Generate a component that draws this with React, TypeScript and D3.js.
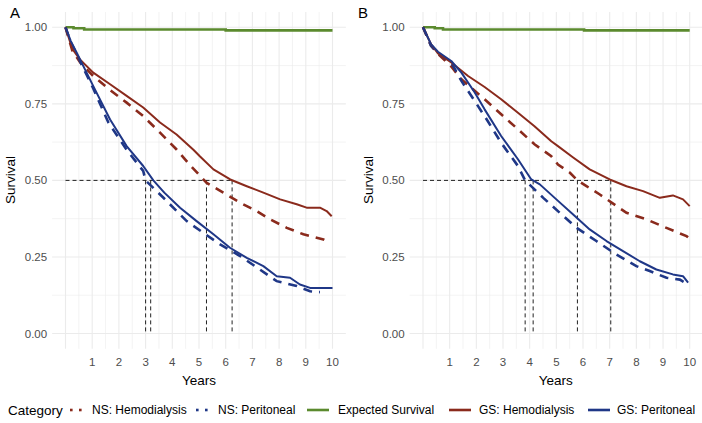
import React from "react";
import * as d3 from "d3";

// ---------- DATA ----------
const xTicks = [1, 2, 3, 4, 5, 6, 7, 8, 9, 10];
const yTicks = [0, 0.25, 0.5, 0.75, 1];
const yTickLabels = ["0.00", "0.25", "0.50", "0.75", "1.00"];
const panelLabels = ["A", "B"];
const legendTitle = "Category";
const categories = ["NS: Hemodialysis", "NS: Peritoneal", "Expected Survival", "GS: Hemodialysis", "GS: Peritoneal"];

// Panel A series [years, survival]
const expectedA: [number, number][] = [[0, 1], [0.3, 0.997], [0.7, 0.993], [6.0, 0.99], [10, 0.99]];
const gsHemoA: [number, number][] = [
  [0, 1], [0.25, 0.93], [0.54, 0.895], [1.04, 0.852], [1.67, 0.814], [2.29, 0.776], [2.91, 0.738], [3.54, 0.689],
  [4.16, 0.65], [4.79, 0.6], [5.04, 0.578], [5.54, 0.536], [6.17, 0.503], [6.79, 0.481], [7.41, 0.46], [8.04, 0.438],
  [8.66, 0.422], [9.03, 0.411], [9.53, 0.411], [9.78, 0.4], [9.97, 0.383],
];
const nsHemoA: [number, number][] = [
  [0, 1], [0.25, 0.925], [0.55, 0.885], [1.04, 0.841], [1.67, 0.795], [2.29, 0.754], [2.91, 0.71], [3.54, 0.656],
  [4.16, 0.601], [4.66, 0.55], [5.29, 0.492], [5.91, 0.46], [6.54, 0.427], [7.16, 0.4], [7.66, 0.373], [8.29, 0.345],
  [8.91, 0.324], [9.66, 0.307], [9.85, 0.298],
];
const gsPeriA: [number, number][] = [
  [0, 1], [0.2, 0.955], [0.42, 0.917], [0.79, 0.852], [1.04, 0.808], [1.67, 0.699], [2.29, 0.612], [2.91, 0.547],
  [3.29, 0.5], [3.7, 0.46], [4.29, 0.411], [4.91, 0.367], [5.54, 0.324], [6.16, 0.28], [6.79, 0.247], [7.41, 0.22],
  [7.91, 0.187], [8.41, 0.182], [8.78, 0.16], [9.16, 0.149], [10, 0.149],
];
const nsPeriA: [number, number][] = [
  [0, 1], [0.2, 0.95], [0.42, 0.912], [0.79, 0.845], [1.04, 0.8], [1.6, 0.69], [2.29, 0.6], [2.91, 0.531],
  [3.0, 0.5], [3.65, 0.445], [4.54, 0.367], [5.16, 0.329], [5.79, 0.291], [6.54, 0.253], [7.28, 0.209], [7.91, 0.171],
  [8.66, 0.155], [9.16, 0.138], [9.53, 0.135],
];

// Panel B series
const expectedB: [number, number][] = [[0, 1], [0.44, 0.997], [0.75, 0.993], [6.04, 0.99], [10, 0.99]];
const gsHemoB: [number, number][] = [
  [0, 1], [0.3, 0.945], [0.56, 0.915], [1.06, 0.885], [1.69, 0.841], [2.31, 0.805], [2.93, 0.765], [3.56, 0.721],
  [4.18, 0.677], [4.81, 0.628], [5.06, 0.612], [5.63, 0.575], [6.25, 0.536], [7.0, 0.503], [7.63, 0.481], [8.25, 0.465],
  [8.88, 0.443], [9.37, 0.451], [9.75, 0.438], [10, 0.416],
];
const nsHemoB: [number, number][] = [
  [0, 1], [0.3, 0.94], [0.6, 0.91], [1.06, 0.872], [1.44, 0.83], [2.31, 0.765], [2.93, 0.716], [3.56, 0.667],
  [4.18, 0.618], [4.81, 0.579], [5.06, 0.552], [5.51, 0.525], [5.79, 0.5], [6.13, 0.481], [6.63, 0.454], [7.63, 0.394],
  [8.37, 0.373], [9.13, 0.345], [9.88, 0.318], [10, 0.31],
];
const gsPeriB: [number, number][] = [
  [0, 1], [0.3, 0.945], [0.56, 0.92], [1.06, 0.89], [1.44, 0.852], [1.94, 0.787], [2.31, 0.732], [2.93, 0.645],
  [3.56, 0.569], [4.06, 0.503], [4.38, 0.487], [5.0, 0.438], [5.63, 0.389], [6.25, 0.34], [6.88, 0.302], [7.5, 0.269],
  [8.13, 0.236], [8.75, 0.209], [9.37, 0.193], [9.75, 0.187], [9.94, 0.166],
];
const nsPeriB: [number, number][] = [
  [0, 1], [0.3, 0.94], [0.56, 0.915], [1.06, 0.885], [1.44, 0.825], [2.31, 0.71], [2.93, 0.623], [3.56, 0.547],
  [3.83, 0.5], [4.51, 0.443], [5.13, 0.394], [5.76, 0.345], [6.5, 0.302], [7.25, 0.258], [8.0, 0.22], [8.5, 0.204],
  [9.13, 0.182], [9.63, 0.176], [9.94, 0.16],
];

// median survival times (years)
const mediansA = [3.0, 3.19, 5.28, 6.24];
const mediansB = [3.83, 4.13, 5.79, 7.04];

// ---------- STYLE ----------
const RED = "#8A2A1C";
const BLUE = "#1F3787";
const GREEN = "#5B8A2E";
const GRID = "#EBEBEB";
const FONT = "'Liberation Sans', Arial, sans-serif";

const y = d3.scaleLinear().domain([0, 1]).range([333.5, 27.3]);

function Panel({ x0, x10, label, labelX, titleX, series, medians }: any) {
  const x = d3.scaleLinear().domain([0, 10]).range([x0, x10]);
  const left = x(-0.5);
  const right = Math.min(x(10.5), 702);
  const top = y(1.05);
  const bottom = y(-0.05);
  const line = d3.line<[number, number]>().x((d) => x(d[0])).y((d) => y(d[1]));
  const stepLine = d3.line<[number, number]>().x((d) => x(d[0])).y((d) => y(d[1])).curve(d3.curveStepAfter);
  const vGrid = d3.range(0, 10.01, 0.5);
  const hGrid = d3.range(0, 1.001, 0.125);
  const cx = (left + right) / 2;
  return (
    <g>
      {hGrid.map((v: number, i: number) => (
        <line key={"h" + i} x1={left} x2={right} y1={y(v)} y2={y(v)} stroke={GRID} strokeWidth={i % 2 === 0 ? 1.1 : 0.6} />
      ))}
      {vGrid.map((t: number, i: number) => (
        <line key={"v" + i} x1={x(t)} x2={x(t)} y1={top} y2={bottom} stroke={GRID} strokeWidth={i % 2 === 0 ? 1.1 : 0.6} />
      ))}
      {yTicks.map((v, i) => (
        <text key={"yt" + i} x={left - 5} y={y(v)} dy="0.35em" textAnchor="end" fontSize={11.5} fill="#4D4D4D" fontFamily={FONT}>
          {yTickLabels[i]}
        </text>
      ))}
      {xTicks.map((t) => (
        <text key={"xt" + t} x={x(t)} y={366} textAnchor="middle" fontSize={11.5} fill="#4D4D4D" fontFamily={FONT}>
          {t}
        </text>
      ))}
      <text x={cx} y={385} textAnchor="middle" fontSize={13.5} fontFamily={FONT} fill="#000">Years</text>
      <text transform={`translate(${titleX},180) rotate(-90)`} textAnchor="middle" fontSize={13.5} fontFamily={FONT} fill="#000">Survival</text>
      <text x={labelX} y={18} fontSize={15} fontFamily={FONT} fill="#000">{label}</text>

      {/* median reference lines */}
      <line x1={x(0)} x2={x(d3.max(medians) as number)} y1={y(0.5)} y2={y(0.5)} stroke="#222" strokeWidth={1} strokeDasharray="4,3" />
      {medians.map((m: number, i: number) => (
        <line key={"m" + i} x1={x(m)} x2={x(m)} y1={y(0.5)} y2={y(0)} stroke="#222" strokeWidth={1} strokeDasharray="4,3" />
      ))}

      <path d={stepLine(series.expected) as string} fill="none" stroke={GREEN} strokeWidth={2.6} />
      <path d={line(series.nsHemo) as string} fill="none" stroke={RED} strokeWidth={2.6} strokeDasharray="9,7" />
      <path d={line(series.nsPeri) as string} fill="none" stroke={BLUE} strokeWidth={2.6} strokeDasharray="9,7" />
      <path d={line(series.gsHemo) as string} fill="none" stroke={RED} strokeWidth={2} strokeLinejoin="round" />
      <path d={line(series.gsPeri) as string} fill="none" stroke={BLUE} strokeWidth={2} strokeLinejoin="round" />
    </g>
  );
}

export default function App() {
  const legendItems = [
    { key: 68, text: 92, color: RED, dashed: true },
    { key: 194, text: 218, color: BLUE, dashed: true },
    { key: 307, text: 338, color: GREEN, dashed: false },
    { key: 449, text: 479, color: RED, dashed: false },
    { key: 588, text: 617, color: BLUE, dashed: false },
  ];
  const ly = 410;
  return (
    <svg width={702} height={423} style={{ position: "absolute", left: 0, top: 0, background: "#fff" }}>
      <rect width={702} height={423} fill="#fff" />
      <Panel x0={65.5} x10={332.5} label={panelLabels[0]} labelX={10} titleX={14.5} medians={mediansA}
        series={{ expected: expectedA, gsHemo: gsHemoA, nsHemo: nsHemoA, gsPeri: gsPeriA, nsPeri: nsPeriA }} />
      <Panel x0={423} x10={689.7} label={panelLabels[1]} labelX={358} titleX={373} medians={mediansB}
        series={{ expected: expectedB, gsHemo: gsHemoB, nsHemo: nsHemoB, gsPeri: gsPeriB, nsPeri: nsPeriB }} />
      <text x={8} y={ly} dy="0.35em" fontSize={13.5} fontFamily={FONT} fill="#000">{legendTitle}</text>
      {legendItems.map((it, i) => (
        <g key={"lg" + i}>
          {it.dashed ? (
            <g>
              <rect x={it.key + 2} y={ly - 1.3} width={2.6} height={2.6} fill={it.color} />
              <rect x={it.key + 11} y={ly - 1.3} width={2.6} height={2.6} fill={it.color} />
            </g>
          ) : (
            <line x1={it.key} x2={it.key + 22} y1={ly} y2={ly} stroke={it.color} strokeWidth={2.6} />
          )}
          <text x={it.text} y={ly} dy="0.35em" fontSize={12} fontFamily={FONT} fill="#000">{categories[i]}</text>
        </g>
      ))}
    </svg>
  );
}
